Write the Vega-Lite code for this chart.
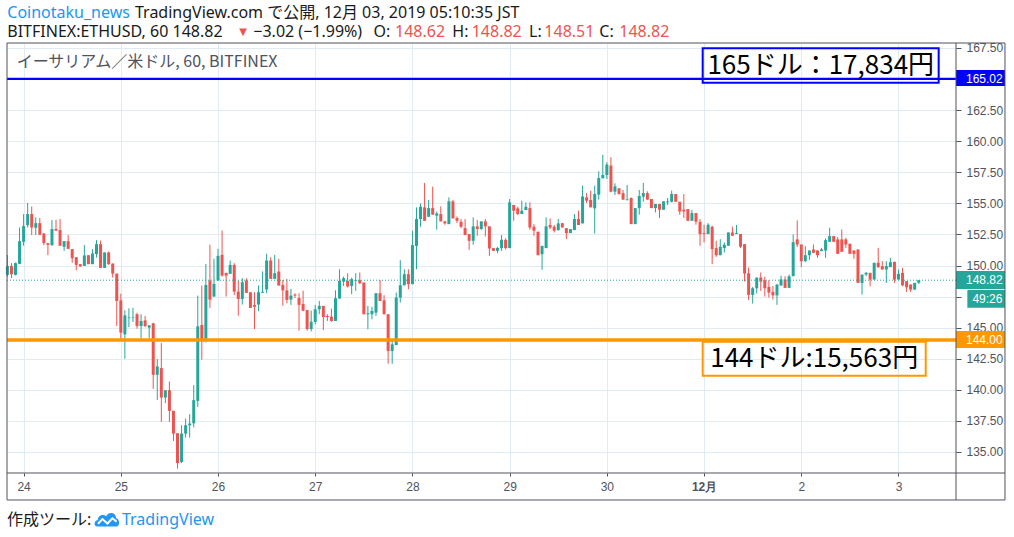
{
  "$schema": "https://vega.github.io/schema/vega-lite/v6.json",
  "width": 949,
  "height": 430,
  "autosize": "none",
  "padding": {"left": 7, "top": 43, "right": 58, "bottom": 64},
  "background": "white",
  "resolve": {"scale": {"color": "independent"}},
  "datasets": {
    "candles": [
      {"t":0,"o":149.25,"h":150.85,"l":149.1,"c":149.97},
      {"t":1,"o":149.97,"h":150.19,"l":148.98,"c":149.3},
      {"t":2,"o":149.25,"h":150.24,"l":149.2,"c":150.19},
      {"t":3,"o":150.13,"h":153.06,"l":150.1,"c":151.96},
      {"t":4,"o":151.91,"h":154.14,"l":151.59,"c":153.17},
      {"t":5,"o":153.25,"h":155.03,"l":153.06,"c":154.14},
      {"t":6,"o":154.14,"h":154.76,"l":152.45,"c":153.06},
      {"t":7,"o":153.04,"h":153.87,"l":152.45,"c":153.41},
      {"t":8,"o":153.41,"h":153.82,"l":152.45,"c":152.47},
      {"t":9,"o":152.58,"h":152.6,"l":151.64,"c":151.8},
      {"t":10,"o":151.8,"h":151.8,"l":150.83,"c":151.67},
      {"t":11,"o":151.64,"h":153.66,"l":151.59,"c":152.93},
      {"t":12,"o":152.93,"h":153.68,"l":152.8,"c":152.8},
      {"t":13,"o":152.85,"h":153.74,"l":151.59,"c":151.59},
      {"t":14,"o":151.51,"h":151.96,"l":151.18,"c":151.96},
      {"t":15,"o":151.96,"h":152.45,"l":151.34,"c":151.34},
      {"t":16,"o":151.32,"h":151.32,"l":150.22,"c":150.59},
      {"t":17,"o":150.67,"h":150.67,"l":149.62,"c":150.05},
      {"t":18,"o":150.11,"h":150.11,"l":149.92,"c":149.92},
      {"t":19,"o":149.97,"h":151.64,"l":149.97,"c":150.81},
      {"t":20,"o":150.83,"h":150.83,"l":150.11,"c":150.11},
      {"t":21,"o":150.11,"h":151.32,"l":150.1,"c":150.97},
      {"t":22,"o":150.91,"h":152.04,"l":150.65,"c":151.72},
      {"t":23,"o":151.72,"h":152.0,"l":149.81,"c":149.81},
      {"t":24,"o":149.81,"h":151.05,"l":149.81,"c":151.05},
      {"t":25,"o":151.05,"h":151.13,"l":150.05,"c":150.11},
      {"t":26,"o":150.16,"h":150.16,"l":149.03,"c":149.35},
      {"t":27,"o":149.35,"h":149.35,"l":145.13,"c":147.15},
      {"t":28,"o":147.2,"h":147.74,"l":144.06,"c":144.6},
      {"t":29,"o":144.46,"h":146.4,"l":142.5,"c":145.99},
      {"t":30,"o":145.77,"h":146.56,"l":145.05,"c":145.82},
      {"t":31,"o":145.8,"h":146.6,"l":145.46,"c":145.84},
      {"t":32,"o":146.08,"h":146.2,"l":144.92,"c":145.13},
      {"t":33,"o":145.13,"h":146.08,"l":144.11,"c":145.54},
      {"t":34,"o":145.59,"h":145.94,"l":145.05,"c":145.13},
      {"t":35,"o":145.0,"h":145.19,"l":144.16,"c":145.19},
      {"t":36,"o":145.35,"h":145.4,"l":140.08,"c":141.21},
      {"t":37,"o":141.21,"h":142.47,"l":139.19,"c":141.88},
      {"t":38,"o":141.75,"h":143.76,"l":137.42,"c":139.38},
      {"t":39,"o":139.38,"h":139.97,"l":138.93,"c":139.97},
      {"t":40,"o":139.97,"h":140.67,"l":137.42,"c":138.31},
      {"t":41,"o":138.31,"h":138.31,"l":135.89,"c":136.48},
      {"t":42,"o":136.51,"h":136.51,"l":133.66,"c":134.11},
      {"t":43,"o":134.2,"h":137.15,"l":134.11,"c":136.48},
      {"t":44,"o":136.48,"h":137.69,"l":136.16,"c":137.15},
      {"t":45,"o":137.15,"h":138.04,"l":136.16,"c":137.29},
      {"t":46,"o":137.31,"h":140.38,"l":136.98,"c":139.17},
      {"t":47,"o":139.11,"h":147.58,"l":138.63,"c":145.11},
      {"t":48,"o":145.22,"h":148.39,"l":142.42,"c":144.09},
      {"t":49,"o":144.03,"h":150.13,"l":143.82,"c":148.44},
      {"t":50,"o":148.79,"h":151.67,"l":146.59,"c":147.26},
      {"t":51,"o":147.5,"h":150.54,"l":147.5,"c":148.52},
      {"t":52,"o":148.79,"h":151.34,"l":148.79,"c":150.78},
      {"t":53,"o":150.86,"h":152.82,"l":149.11,"c":149.19},
      {"t":54,"o":149.41,"h":149.41,"l":147.5,"c":149.19},
      {"t":55,"o":149.33,"h":150.4,"l":149.33,"c":150.05},
      {"t":56,"o":150.05,"h":150.19,"l":147.63,"c":147.9},
      {"t":57,"o":147.9,"h":148.79,"l":145.97,"c":147.31},
      {"t":58,"o":147.31,"h":148.98,"l":146.86,"c":148.66},
      {"t":59,"o":148.79,"h":148.98,"l":147.8,"c":147.8},
      {"t":60,"o":147.85,"h":147.85,"l":146.59,"c":146.59},
      {"t":61,"o":146.83,"h":147.85,"l":144.89,"c":146.69},
      {"t":62,"o":146.86,"h":148.39,"l":146.32,"c":147.85},
      {"t":63,"o":147.8,"h":149.52,"l":147.8,"c":147.9},
      {"t":64,"o":148.07,"h":150.94,"l":147.77,"c":150.4},
      {"t":65,"o":150.4,"h":150.67,"l":148.93,"c":148.93},
      {"t":66,"o":148.93,"h":150.86,"l":148.93,"c":149.38},
      {"t":67,"o":149.52,"h":150.54,"l":148.39,"c":148.39},
      {"t":68,"o":148.44,"h":148.84,"l":146.77,"c":148.0},
      {"t":69,"o":148.0,"h":148.93,"l":146.96,"c":147.23},
      {"t":70,"o":147.26,"h":148.12,"l":146.83,"c":147.58},
      {"t":71,"o":147.66,"h":147.77,"l":147.39,"c":147.58},
      {"t":72,"o":147.39,"h":147.77,"l":144.76,"c":146.83},
      {"t":73,"o":146.91,"h":147.98,"l":146.32,"c":146.37},
      {"t":74,"o":146.42,"h":146.42,"l":144.76,"c":144.89},
      {"t":75,"o":144.89,"h":146.37,"l":144.7,"c":145.48},
      {"t":76,"o":145.46,"h":146.83,"l":145.27,"c":146.48},
      {"t":77,"o":146.48,"h":147.15,"l":146.08,"c":146.75},
      {"t":78,"o":146.75,"h":146.75,"l":144.81,"c":145.86},
      {"t":79,"o":145.94,"h":146.08,"l":145.54,"c":145.86},
      {"t":80,"o":145.89,"h":146.53,"l":145.48,"c":145.54},
      {"t":81,"o":145.54,"h":148.01,"l":145.54,"c":147.37},
      {"t":82,"o":147.34,"h":149.7,"l":147.34,"c":148.76},
      {"t":83,"o":148.71,"h":149.11,"l":148.36,"c":148.98},
      {"t":84,"o":148.76,"h":149.38,"l":148.23,"c":148.31},
      {"t":85,"o":148.36,"h":149.03,"l":147.69,"c":148.9},
      {"t":86,"o":148.76,"h":149.38,"l":147.96,"c":148.82},
      {"t":87,"o":148.82,"h":149.44,"l":148.5,"c":148.58},
      {"t":88,"o":148.63,"h":148.63,"l":146.08,"c":146.08},
      {"t":89,"o":146.08,"h":146.75,"l":144.87,"c":146.16},
      {"t":90,"o":146.08,"h":146.69,"l":145.67,"c":146.35},
      {"t":91,"o":146.21,"h":147.77,"l":145.94,"c":147.77},
      {"t":92,"o":147.77,"h":148.84,"l":147.15,"c":147.15},
      {"t":93,"o":147.2,"h":147.61,"l":146.08,"c":146.08},
      {"t":94,"o":146.08,"h":146.08,"l":142.1,"c":143.12},
      {"t":95,"o":143.12,"h":143.93,"l":142.1,"c":143.66},
      {"t":96,"o":143.6,"h":147.82,"l":143.6,"c":147.42},
      {"t":97,"o":147.42,"h":150.43,"l":147.02,"c":148.41},
      {"t":98,"o":148.41,"h":149.7,"l":148.41,"c":149.3},
      {"t":99,"o":149.3,"h":149.7,"l":148.09,"c":148.5},
      {"t":100,"o":148.5,"h":152.8,"l":148.5,"c":151.64},
      {"t":101,"o":151.58,"h":154.68,"l":149.7,"c":153.74},
      {"t":102,"o":153.74,"h":155.0,"l":153.12,"c":154.73},
      {"t":103,"o":154.68,"h":156.64,"l":153.6,"c":153.6},
      {"t":104,"o":153.92,"h":155.27,"l":153.92,"c":154.62},
      {"t":105,"o":154.62,"h":156.34,"l":154.09,"c":154.09},
      {"t":106,"o":154.01,"h":154.35,"l":152.88,"c":154.19},
      {"t":107,"o":154.14,"h":154.76,"l":153.55,"c":153.55},
      {"t":108,"o":153.55,"h":153.6,"l":153.28,"c":153.39},
      {"t":109,"o":153.33,"h":155.48,"l":153.33,"c":155.16},
      {"t":110,"o":155.16,"h":155.27,"l":153.79,"c":153.79},
      {"t":111,"o":153.82,"h":153.95,"l":153.41,"c":153.6},
      {"t":112,"o":153.52,"h":153.74,"l":153.01,"c":153.12},
      {"t":113,"o":153.01,"h":153.74,"l":152.45,"c":152.45},
      {"t":114,"o":152.53,"h":152.53,"l":151.26,"c":151.99},
      {"t":115,"o":151.99,"h":153.87,"l":151.67,"c":153.15},
      {"t":116,"o":153.15,"h":153.66,"l":152.39,"c":152.93},
      {"t":117,"o":152.93,"h":153.55,"l":152.88,"c":153.55},
      {"t":118,"o":153.55,"h":153.74,"l":152.34,"c":153.15},
      {"t":119,"o":153.15,"h":153.15,"l":150.78,"c":151.37},
      {"t":120,"o":151.4,"h":151.4,"l":151.18,"c":151.18},
      {"t":121,"o":151.18,"h":151.48,"l":150.99,"c":151.42},
      {"t":122,"o":151.4,"h":152.45,"l":151.18,"c":152.07},
      {"t":123,"o":152.07,"h":152.18,"l":151.29,"c":151.4},
      {"t":124,"o":151.4,"h":155.35,"l":151.4,"c":155.08},
      {"t":125,"o":154.87,"h":154.87,"l":153.6,"c":154.41},
      {"t":126,"o":154.6,"h":154.73,"l":154.06,"c":154.14},
      {"t":127,"o":154.14,"h":155.22,"l":154.14,"c":154.41},
      {"t":128,"o":154.46,"h":155.08,"l":154.46,"c":154.73},
      {"t":129,"o":154.62,"h":155.08,"l":152.88,"c":153.06},
      {"t":130,"o":153.12,"h":153.33,"l":152.39,"c":152.8},
      {"t":131,"o":152.72,"h":152.72,"l":150.83,"c":150.83},
      {"t":132,"o":150.91,"h":151.58,"l":149.65,"c":151.58},
      {"t":133,"o":151.4,"h":153.87,"l":151.4,"c":153.15},
      {"t":134,"o":153.26,"h":153.79,"l":152.93,"c":153.06},
      {"t":135,"o":153.12,"h":153.26,"l":152.66,"c":152.8},
      {"t":136,"o":152.85,"h":153.74,"l":152.8,"c":153.39},
      {"t":137,"o":153.41,"h":153.41,"l":153.06,"c":153.06},
      {"t":138,"o":153.01,"h":153.01,"l":152.12,"c":152.61},
      {"t":139,"o":152.61,"h":152.93,"l":152.61,"c":152.93},
      {"t":140,"o":152.85,"h":154.14,"l":152.85,"c":153.74},
      {"t":141,"o":153.74,"h":154.41,"l":153.26,"c":153.26},
      {"t":142,"o":153.39,"h":156.42,"l":153.39,"c":155.56},
      {"t":143,"o":155.48,"h":155.83,"l":155.03,"c":155.22},
      {"t":144,"o":155.27,"h":156.02,"l":154.68,"c":154.68},
      {"t":145,"o":154.6,"h":156.42,"l":152.58,"c":155.75},
      {"t":146,"o":155.7,"h":157.58,"l":155.3,"c":157.04},
      {"t":147,"o":157.02,"h":158.9,"l":157.02,"c":157.28},
      {"t":148,"o":157.28,"h":158.31,"l":156.96,"c":158.12},
      {"t":149,"o":158.04,"h":158.71,"l":155.89,"c":155.94},
      {"t":150,"o":155.94,"h":156.61,"l":155.67,"c":156.37},
      {"t":151,"o":156.21,"h":156.21,"l":155.7,"c":155.75},
      {"t":152,"o":155.83,"h":156.08,"l":155.3,"c":155.3},
      {"t":153,"o":155.3,"h":156.48,"l":155.22,"c":155.35},
      {"t":154,"o":155.43,"h":155.48,"l":153.33,"c":153.33},
      {"t":155,"o":153.33,"h":154.62,"l":153.33,"c":154.62},
      {"t":156,"o":154.62,"h":156.08,"l":154.09,"c":155.59},
      {"t":157,"o":155.54,"h":156.64,"l":155.13,"c":155.83},
      {"t":158,"o":155.83,"h":155.97,"l":155.3,"c":155.3},
      {"t":159,"o":155.35,"h":155.35,"l":154.62,"c":154.62},
      {"t":160,"o":154.62,"h":154.95,"l":154.27,"c":154.95},
      {"t":161,"o":154.95,"h":154.95,"l":153.82,"c":154.49},
      {"t":162,"o":154.49,"h":155.16,"l":154.49,"c":155.16},
      {"t":163,"o":155.08,"h":155.43,"l":154.87,"c":155.16},
      {"t":164,"o":155.13,"h":156.02,"l":155.08,"c":155.75},
      {"t":165,"o":155.75,"h":155.75,"l":155.13,"c":155.13},
      {"t":166,"o":155.13,"h":155.13,"l":154.09,"c":154.35},
      {"t":167,"o":154.49,"h":155.75,"l":153.82,"c":154.35},
      {"t":168,"o":154.54,"h":154.54,"l":153.6,"c":153.6},
      {"t":169,"o":153.6,"h":154.46,"l":153.6,"c":154.22},
      {"t":170,"o":154.22,"h":154.22,"l":153.28,"c":153.52},
      {"t":171,"o":153.52,"h":153.74,"l":151.59,"c":152.53},
      {"t":172,"o":152.61,"h":153.28,"l":151.86,"c":152.53},
      {"t":173,"o":152.53,"h":153.41,"l":152.53,"c":153.28},
      {"t":174,"o":153.12,"h":153.2,"l":150.11,"c":151.32},
      {"t":175,"o":151.4,"h":151.99,"l":150.7,"c":150.83},
      {"t":176,"o":150.83,"h":152.12,"l":150.83,"c":151.51},
      {"t":177,"o":151.4,"h":151.86,"l":151.05,"c":151.67},
      {"t":178,"o":151.59,"h":152.66,"l":151.59,"c":152.66},
      {"t":179,"o":152.66,"h":153.12,"l":152.39,"c":152.39},
      {"t":180,"o":152.53,"h":153.26,"l":152.53,"c":152.61},
      {"t":181,"o":152.53,"h":152.53,"l":151.4,"c":151.51},
      {"t":182,"o":151.72,"h":151.72,"l":148.71,"c":149.35},
      {"t":183,"o":149.38,"h":149.84,"l":147.23,"c":147.64},
      {"t":184,"o":147.64,"h":148.28,"l":146.94,"c":148.17},
      {"t":185,"o":148.17,"h":149.03,"l":147.74,"c":149.03},
      {"t":186,"o":149.03,"h":149.44,"l":147.96,"c":148.71},
      {"t":187,"o":148.82,"h":149.09,"l":147.5,"c":148.17},
      {"t":188,"o":148.28,"h":148.82,"l":147.42,"c":147.82},
      {"t":189,"o":147.88,"h":148.36,"l":147.26,"c":147.6},
      {"t":190,"o":147.6,"h":148.5,"l":146.84,"c":148.47},
      {"t":191,"o":148.4,"h":149.19,"l":148.34,"c":148.88},
      {"t":192,"o":148.87,"h":149.14,"l":148.2,"c":148.2},
      {"t":193,"o":148.2,"h":149.27,"l":148.2,"c":149.14},
      {"t":194,"o":149.14,"h":152.5,"l":149.14,"c":151.88},
      {"t":195,"o":152.1,"h":153.63,"l":151.48,"c":151.69},
      {"t":196,"o":151.69,"h":151.69,"l":149.87,"c":150.35},
      {"t":197,"o":150.35,"h":151.56,"l":150.27,"c":150.83},
      {"t":198,"o":150.83,"h":151.21,"l":150.46,"c":151.21},
      {"t":199,"o":151.29,"h":151.69,"l":151.02,"c":151.02},
      {"t":200,"o":151.21,"h":151.21,"l":150.62,"c":150.83},
      {"t":201,"o":151.16,"h":151.42,"l":151.16,"c":151.29},
      {"t":202,"o":151.21,"h":152.18,"l":150.62,"c":152.04},
      {"t":203,"o":151.91,"h":153.04,"l":151.91,"c":152.37},
      {"t":204,"o":152.37,"h":152.37,"l":151.91,"c":151.91},
      {"t":205,"o":152.1,"h":152.29,"l":150.94,"c":150.94},
      {"t":206,"o":152.1,"h":152.9,"l":151.1,"c":151.1},
      {"t":207,"o":152.1,"h":152.23,"l":151.42,"c":151.69},
      {"t":208,"o":151.75,"h":151.75,"l":150.94,"c":150.94},
      {"t":209,"o":151.21,"h":151.21,"l":150.54,"c":150.94},
      {"t":210,"o":151.29,"h":151.29,"l":148.6,"c":148.6},
      {"t":211,"o":148.6,"h":149.27,"l":147.66,"c":149.27},
      {"t":212,"o":149.27,"h":149.49,"l":149.14,"c":149.41},
      {"t":213,"o":149.41,"h":149.41,"l":148.33,"c":148.87},
      {"t":214,"o":148.87,"h":150.22,"l":148.87,"c":150.22},
      {"t":215,"o":150.22,"h":151.42,"l":149.81,"c":149.87},
      {"t":216,"o":149.95,"h":150.35,"l":149.68,"c":149.68},
      {"t":217,"o":149.68,"h":150.35,"l":148.6,"c":149.95},
      {"t":218,"o":149.87,"h":150.62,"l":149.87,"c":150.27},
      {"t":219,"o":150.3,"h":150.3,"l":148.6,"c":148.87},
      {"t":220,"o":148.87,"h":149.68,"l":148.87,"c":149.33},
      {"t":221,"o":149.41,"h":149.81,"l":148.33,"c":148.41},
      {"t":222,"o":148.74,"h":148.74,"l":147.88,"c":148.25},
      {"t":223,"o":148.47,"h":148.47,"l":147.88,"c":148.06},
      {"t":224,"o":148.06,"h":148.6,"l":148.06,"c":148.6},
      {"t":225,"o":148.62,"h":148.82,"l":148.51,"c":148.82}
    ]
  },
  "data": {"name": "candles"},
  "layer": [
    {
      "mark": {"type": "rule", "strokeWidth": 1},
      "encoding": {
        "x": {
          "field": "t", "type": "quantitative",
          "scale": {"domain": [-0.1, 234.2], "nice": false, "zero": false, "padding": 0},
          "axis": {
            "title": null,
            "values": [4, 28, 52, 76, 100, 124, 148, 172, 196, 220],
            "tickCount": 30,
            "labelExpr": "['24','25','26','27','28','29','30','12月','2','3'][round((datum.value - 4) / 24)]",
            "labelFontWeight": {"condition": {"test": "datum.value == 172", "value": "bold"}, "value": "normal"},
            "grid": true, "gridColor": "#e1ecf2",
            "domain": false, "labelOverlap": false,
            "tickColor": "#50535e", "tickSize": 3,
            "labelColor": "#50535e", "labelFont": "Liberation Sans", "labelFontSize": 12, "labelPadding": 5
          }
        },
        "y": {
          "field": "l", "type": "quantitative",
          "scale": {"domain": [133.31, 167.9], "nice": false, "zero": false},
          "axis": {
            "title": null, "orient": "right",
            "values": [135, 137.5, 140, 142.5, 145, 147.5, 150, 152.5, 155, 157.5, 160, 162.5, 165, 167.5],
            "tickCount": 30,
            "format": ".2f",
            "labelExpr": "datum.value == 147.5 || datum.value == 165 ? '' : datum.label",
            "grid": true, "gridColor": "#e1ecf2",
            "domain": false, "labelOverlap": false,
            "tickColor": "#50535e", "tickSize": 5,
            "labelColor": "#50535e", "labelFont": "Liberation Sans", "labelFontSize": 12, "labelPadding": 5
          }
        },
        "y2": {"field": "h"},
        "color": {"condition": {"test": "datum.c >= datum.o", "value": "#26a69a"}, "value": "#ef5350"}
      }
    },
    {
      "mark": {"type": "bar", "width": 3},
      "encoding": {
        "x": {"field": "t", "type": "quantitative", "scale": {"domain": [-0.1, 234.2], "nice": false, "zero": false, "padding": 0}},
        "y": {"field": "o", "type": "quantitative", "scale": {"domain": [133.31, 167.9], "nice": false, "zero": false}},
        "y2": {"field": "c"},
        "color": {"condition": {"test": "datum.c >= datum.o", "value": "#26a69a"}, "value": "#ef5350"}
      }
    },
    {
      "data": {"values": [
        {"at": 148.82, "kind": "last"},
        {"at": 165.02, "kind": "resist"},
        {"at": 144.0, "kind": "support"}
      ]},
      "mark": {"type": "rule"},
      "encoding": {
        "y": {"field": "at", "type": "quantitative", "scale": {"domain": [133.31, 167.9], "nice": false, "zero": false}},
        "color": {"field": "kind", "type": "nominal", "scale": {"domain": ["last", "resist", "support"], "range": ["#26a69a", "#0000ff", "#ff9800"]}, "legend": null},
        "strokeWidth": {"field": "kind", "type": "nominal", "scale": {"domain": ["last", "resist", "support"], "range": [1, 3.5, 4]}, "legend": null},
        "strokeDash": {"field": "kind", "type": "nominal", "scale": {"domain": ["last", "resist", "support"], "range": [[1, 2], [1, 0], [1, 0]]}, "legend": null}
      }
    },
    {
      "data": {"values": [
        {"label": "165ドル：17,834円", "kind": "resist", "x0": 171.66, "x1": 229.92, "y0": 167.47, "y1": 164.71, "cx": 200.8, "cy": 166.09},
        {"label": "144ドル:15,563円", "kind": "support", "x0": 171.66, "x1": 226.72, "y0": 143.87, "y1": 141.14, "cx": 199.19, "cy": 142.5}
      ]},
      "layer": [
        {
          "mark": {"type": "rect", "fill": null, "strokeWidth": 2},
          "encoding": {
            "x": {"field": "x0", "type": "quantitative", "scale": {"domain": [-0.1, 234.2], "nice": false, "zero": false, "padding": 0}},
            "x2": {"field": "x1"},
            "y": {"field": "y0", "type": "quantitative", "scale": {"domain": [133.31, 167.9], "nice": false, "zero": false}},
            "y2": {"field": "y1"},
            "stroke": {"field": "kind", "type": "nominal", "scale": {"domain": ["resist", "support"], "range": ["#0000ff", "#ff9800"]}, "legend": null}
          }
        },
        {
          "mark": {"type": "text", "font": "Noto Sans CJK JP", "fontSize": 26, "color": "#000000", "align": "center", "baseline": "middle"},
          "encoding": {
            "x": {"field": "cx", "type": "quantitative", "scale": {"domain": [-0.1, 234.2], "nice": false, "zero": false, "padding": 0}},
            "y": {"field": "cy", "type": "quantitative", "scale": {"domain": [133.31, 167.9], "nice": false, "zero": false}},
            "text": {"field": "label"}
          }
        }
      ]
    },
    {
      "data": {"values": [{}]},
      "mark": {"type": "text", "text": "イーサリアム／米ドル, 60, BITFINEX", "font": "Noto Sans CJK JP", "fontSize": 16, "color": "#50535e", "align": "left", "baseline": "middle"},
      "encoding": {
        "x": {"datum": 2.29, "type": "quantitative", "scale": {"domain": [-0.1, 234.2], "nice": false, "zero": false, "padding": 0}},
        "y": {"datum": 166.37, "type": "quantitative", "scale": {"domain": [133.31, 167.9], "nice": false, "zero": false}}
      }
    },
    {
      "data": {"values": [
        {"label": "165.02", "kind": "resist", "top": 165.73, "bottom": 164.44, "at": 165.02, "x0": 234.2, "tx": 236.66},
        {"label": "148.82", "kind": "last", "top": 149.56, "bottom": 148.11, "at": 148.82, "x0": 234.2, "tx": 236.66},
        {"label": "49:26", "kind": "last", "top": 148.03, "bottom": 146.61, "at": 147.32, "x0": 237.0, "tx": 238.25},
        {"label": "144.00", "kind": "support", "top": 144.73, "bottom": 143.36, "at": 144.0, "x0": 234.2, "tx": 236.66}
      ]},
      "layer": [
        {
          "mark": {"type": "rect"},
          "encoding": {
            "x": {"field": "x0", "type": "quantitative", "scale": {"domain": [-0.1, 234.2], "nice": false, "zero": false, "padding": 0}},
            "x2": {"datum": 246.29},
            "y": {"field": "top", "type": "quantitative", "scale": {"domain": [133.31, 167.9], "nice": false, "zero": false}},
            "y2": {"field": "bottom"},
            "color": {"field": "kind", "type": "nominal", "scale": {"domain": ["last", "resist", "support"], "range": ["#26a69a", "#0000ff", "#ff9800"]}, "legend": null}
          }
        },
        {
          "mark": {"type": "text", "align": "left", "baseline": "middle", "font": "Liberation Sans", "fontSize": 12, "color": "white"},
          "encoding": {
            "x": {"field": "tx", "type": "quantitative", "scale": {"domain": [-0.1, 234.2], "nice": false, "zero": false, "padding": 0}},
            "y": {"field": "at", "type": "quantitative", "scale": {"domain": [133.31, 167.9], "nice": false, "zero": false}},
            "text": {"field": "label"}
          }
        }
      ]
    },
    {
      "data": {"values": [
        {"x0": -0.1, "x1": 246.29, "y0": 167.9, "y1": 167.9},
        {"x0": -0.1, "x1": 246.29, "y0": 133.31, "y1": 133.31},
        {"x0": -0.1, "x1": 246.29, "y0": 131.14, "y1": 131.14},
        {"x0": -0.1, "x1": -0.1, "y0": 167.9, "y1": 131.14},
        {"x0": 234.2, "x1": 234.2, "y0": 167.9, "y1": 131.14},
        {"x0": 246.29, "x1": 246.29, "y0": 167.9, "y1": 131.14}
      ]},
      "mark": {"type": "rule", "color": "#50535e", "strokeWidth": 1},
      "encoding": {
        "x": {"field": "x0", "type": "quantitative", "scale": {"domain": [-0.1, 234.2], "nice": false, "zero": false, "padding": 0}},
        "x2": {"field": "x1"},
        "y": {"field": "y0", "type": "quantitative", "scale": {"domain": [133.31, 167.9], "nice": false, "zero": false}},
        "y2": {"field": "y1"}
      }
    },
    {
      "data": {"values": [
        {"text": "Coinotaku_news", "kind": "link", "line": 169.9, "from": -0.03},
        {"text": "TradingView.com で公開, 12月 03, 2019 05:10:35 JST", "kind": "plain", "line": 169.9, "from": 31.5},
        {"text": "BITFINEX:ETHUSD, 60 148.82", "kind": "plain", "line": 168.36, "from": -0.03},
        {"text": "−3.02 (−1.99%)", "kind": "plain", "line": 168.36, "from": 60.71},
        {"text": "O:", "kind": "plain", "line": 168.36, "from": 90.39},
        {"text": "148.62", "kind": "down", "line": 168.36, "from": 95.69},
        {"text": "H:", "kind": "plain", "line": 168.36, "from": 109.84},
        {"text": "148.82", "kind": "down", "line": 168.36, "from": 114.63},
        {"text": "L:", "kind": "plain", "line": 168.36, "from": 128.78},
        {"text": "148.51", "kind": "down", "line": 168.36, "from": 132.56},
        {"text": "C:", "kind": "plain", "line": 168.36, "from": 146.13},
        {"text": "148.82", "kind": "down", "line": 168.36, "from": 151.07},
        {"text": "作成ツール:", "kind": "plain", "line": 129.16, "from": -0.1},
        {"text": "TradingView", "kind": "link", "line": 129.16, "from": 28.29}
      ]},
      "mark": {"type": "text", "align": "left", "baseline": "alphabetic", "font": "Noto Sans, Noto Sans CJK JP", "fontSize": 16},
      "encoding": {
        "x": {"field": "from", "type": "quantitative", "scale": {"domain": [-0.1, 234.2], "nice": false, "zero": false, "padding": 0}},
        "y": {"field": "line", "type": "quantitative", "scale": {"domain": [133.31, 167.9], "nice": false, "zero": false}},
        "text": {"field": "text"},
        "color": {"field": "kind", "type": "nominal", "scale": {"domain": ["link", "plain", "down"], "range": ["#2196f3", "#1a1a1a", "#ef5350"]}, "legend": null}
      }
    },
    {
      "data": {"values": [{}]},
      "mark": {"type": "text", "text": "▼", "align": "left", "baseline": "alphabetic", "font": "DejaVu Sans", "fontSize": 10, "color": "#ef5350"},
      "encoding": {
        "x": {"datum": 57.25, "type": "quantitative", "scale": {"domain": [-0.1, 234.2], "nice": false, "zero": false, "padding": 0}},
        "y": {"datum": 168.58, "type": "quantitative", "scale": {"domain": [133.31, 167.9], "nice": false, "zero": false}}
      }
    },
    {
      "data": {"values": [{}]},
      "mark": {"type": "point", "shape": "M-0.75,0.55 C-1.05,0.55 -1.05,0.05 -0.72,0.02 C-0.7,-0.38 -0.28,-0.5 -0.05,-0.28 C0.15,-0.68 0.72,-0.62 0.75,-0.12 C1.05,-0.1 1.08,0.55 0.75,0.55 Z", "filled": true, "color": "#2196f3", "opacity": 1, "size": 625},
      "encoding": {
        "x": {"datum": 24.54, "type": "quantitative", "scale": {"domain": [-0.1, 234.2], "nice": false, "zero": false, "padding": 0}},
        "y": {"datum": 129.55, "type": "quantitative", "scale": {"domain": [133.31, 167.9], "nice": false, "zero": false}}
      }
    },
    {
      "data": {"values": [{}]},
      "mark": {"type": "point", "shape": "M-0.7,0.32 L-0.35,-0.05 L0.05,0.3 L0.45,-0.12 L0.78,0.15", "filled": false, "color": "white", "strokeWidth": 2, "opacity": 1, "size": 625},
      "encoding": {
        "x": {"datum": 24.54, "type": "quantitative", "scale": {"domain": [-0.1, 234.2], "nice": false, "zero": false, "padding": 0}},
        "y": {"datum": 129.55, "type": "quantitative", "scale": {"domain": [133.31, 167.9], "nice": false, "zero": false}}
      }
    }
  ],
  "config": {
    "view": {"stroke": null},
    "font": "Liberation Sans",
    "axis": {"title": null}
  }
}
